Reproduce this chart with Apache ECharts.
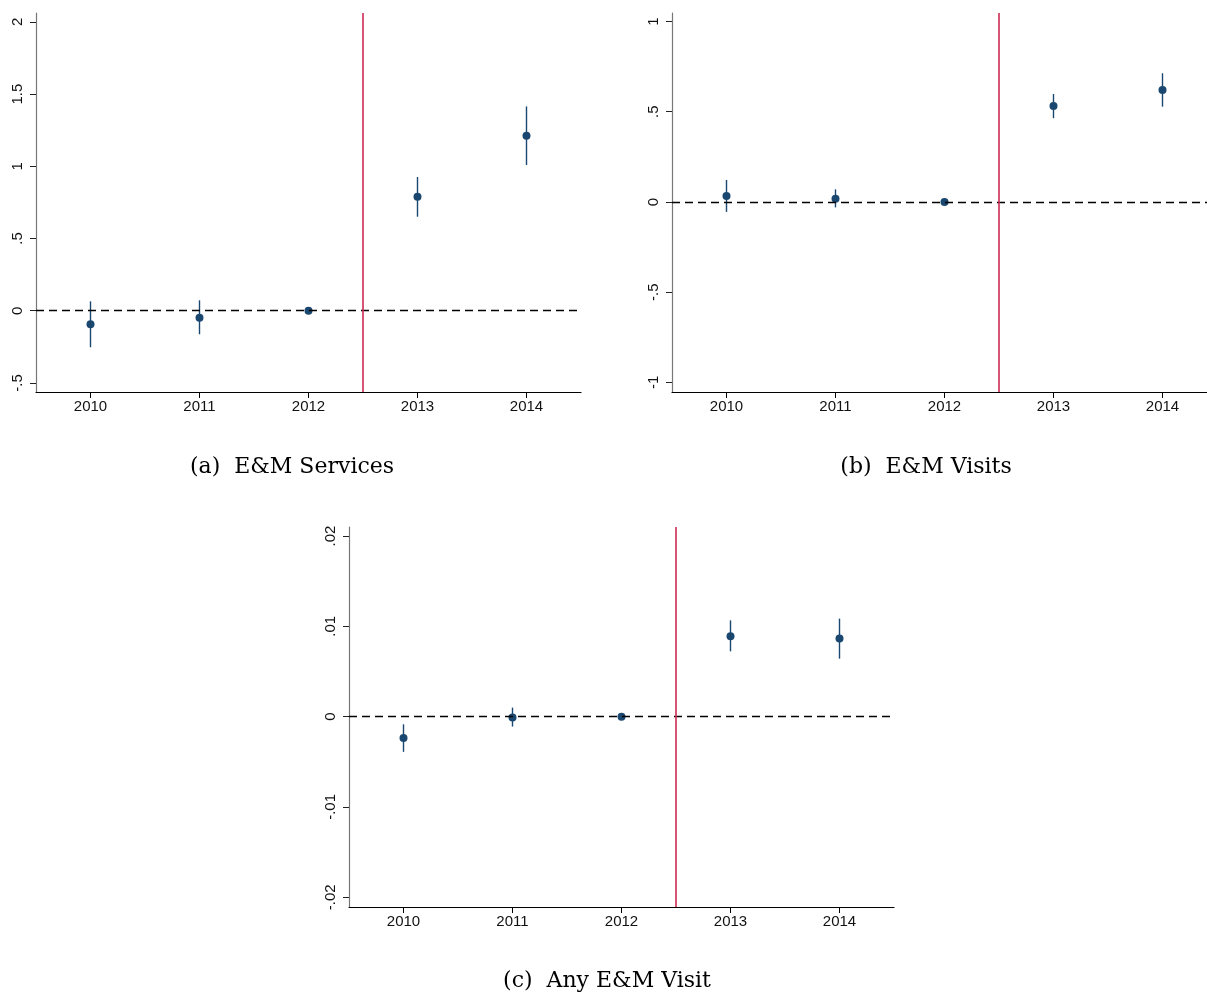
<!DOCTYPE html>
<html>
<head>
<meta charset="utf-8">
<script src="https://cdn.jsdelivr.net/npm/echarts@6/dist/echarts.min.js"></script>
<style>
  html, body { margin: 0; padding: 0; background: #fff; overflow: hidden; }
  #main { width: 1230px; height: 996px; }
</style>
</head>
<body>
<div id="main"></div>
<script>
// Event-study coefficients with 95% confidence intervals, reference year 2012
const years = [2010, 2011, 2012, 2013, 2014];

// (a) E&M Services
const servicesEst = [-0.094, -0.048, 0, 0.789, 1.212];
const servicesLo  = [-0.253, -0.163, 0, 0.651, 1.009];
const servicesHi  = [ 0.065,  0.072, 0, 0.926, 1.415];
const servicesTicks = [-0.5, 0, 0.5, 1, 1.5, 2];

// (b) E&M Visits
const visitsEst = [0.033, 0.018, 0, 0.532, 0.620];
const visitsLo  = [-0.055, -0.030, 0, 0.464, 0.528];
const visitsHi  = [0.122, 0.070, 0, 0.598, 0.713];
const visitsTicks = [-1, -0.5, 0, 0.5, 1];

// (c) Any E&M Visit
const anyEst = [-0.00237, -0.0001, 0, 0.0089, 0.00864];
const anyLo  = [-0.0039, -0.0011, 0, 0.00723, 0.00642];
const anyHi  = [-0.00085, 0.0010, 0, 0.01066, 0.01085];
const anyTicks = [-0.02, -0.01, 0, 0.01, 0.02];

const policyYear = 2012.5;
const captions = ['(a)  E&M Services', '(b)  E&M Visits', '(c)  Any E&M Visit'];

const NAVY = '#1a476f';
const RED = '#cc2b55';

function stataNum(v) {
  const s = String(+v.toFixed(6));
  return s.replace(/^(-?)0\./, '$1.');
}

function errorBars(params, api) {
  const x = api.value(0);
  const p1 = api.coord([x, api.value(1)]);
  const p2 = api.coord([x, api.value(2)]);
  return {
    type: 'line',
    shape: { x1: p1[0], y1: p1[1], x2: p2[0], y2: p2[1] },
    style: { stroke: NAVY, lineWidth: 1.4 }
  };
}

// Panel (b) runs slightly past the right edge of the page
const panels = [
  { est: servicesEst, lo: servicesLo, hi: servicesHi, ticks: servicesTicks,
    min: -0.563, max: 2.062, grid: { left: 36, top: 13, width: 545, height: 379 } },
  { est: visitsEst, lo: visitsLo, hi: visitsHi, ticks: visitsTicks,
    min: -1.053, max: 1.047, grid: { left: 672, top: 13, width: 545, height: 379 } },
  { est: anyEst, lo: anyLo, hi: anyHi, ticks: anyTicks,
    min: -0.02108, max: 0.0210, grid: { left: 349, top: 527, width: 545, height: 380 } }
];

const grid = [], xAxis = [], yAxis = [], series = [];
panels.forEach((p, i) => {
  grid.push(Object.assign({ containLabel: false }, p.grid));
  xAxis.push({
    type: 'value', gridIndex: i, min: 2009.5, max: 2014.5,
    splitLine: { show: false },
    axisLine: { show: true, onZero: false, lineStyle: { color: '#000', width: 1.2 } },
    axisTick: { show: true, customValues: years, length: 6, lineStyle: { color: '#000', width: 1 } },
    axisLabel: { customValues: years, margin: 7, color: '#111', fontSize: 15,
                 fontFamily: 'Liberation Sans, Arial, sans-serif', formatter: v => String(v) }
  });
  yAxis.push({
    type: 'value', gridIndex: i, min: p.min, max: p.max,
    splitLine: { show: false },
    axisLine: { show: true, onZero: false, lineStyle: { color: '#777', width: 1.2 } },
    axisTick: { show: true, customValues: p.ticks, length: 6, lineStyle: { color: '#222', width: 1 } },
    axisLabel: { customValues: p.ticks, rotate: 90, margin: 11, color: '#111', fontSize: 15,
                 fontFamily: 'Liberation Sans, Arial, sans-serif', formatter: stataNum }
  });
  series.push({
    type: 'custom', xAxisIndex: i, yAxisIndex: i, z: 3,
    renderItem: errorBars,
    data: years.map((y, k) => [y, p.lo[k], p.hi[k]])
  });
  series.push({
    type: 'scatter', xAxisIndex: i, yAxisIndex: i, z: 4,
    symbol: 'circle', symbolSize: 8,
    itemStyle: { color: NAVY, opacity: 1 },
    data: years.map((y, k) => [y, p.est[k]]),
    markLine: {
      silent: true, symbol: 'none', animation: false,
      label: { show: false },
      data: [
        { yAxis: 0, lineStyle: { color: '#000', type: [8, 5], width: 1.3 } },
        { xAxis: policyYear, lineStyle: { color: RED, type: 'solid', width: 1.6 } }
      ]
    }
  });
});

const captionStyle = { fontFamily: 'DejaVu Serif, serif', fontSize: 22, fill: '#000',
                       textAlign: 'center', textVerticalAlign: 'middle' };
const captionPos = [[292, 467], [926, 467], [607, 981]];
const graphic = captions.map((t, i) => ({
  type: 'text', x: captionPos[i][0], y: captionPos[i][1],
  style: Object.assign({ text: t }, captionStyle)
}));

const chart = echarts.init(document.getElementById('main'), null, { renderer: 'canvas' });
chart.setOption({
  animation: false,
  backgroundColor: '#fff',
  grid, xAxis, yAxis, series, graphic
});
</script>
</body>
</html>
